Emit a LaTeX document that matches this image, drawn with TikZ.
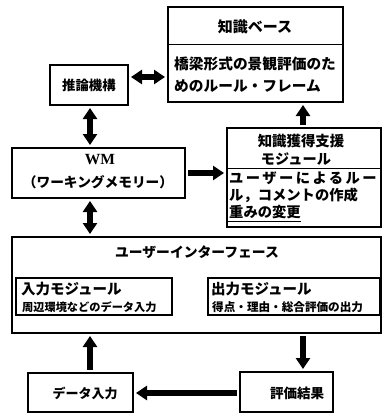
\documentclass[tikz,border=0pt]{standalone}
\usepackage{fontspec}
\newfontfamily\jp{Noto Sans CJK JP}
\newfontfamily\jpls{Noto Sans CJK JP}[LetterSpace=17]
\newfontfamily\wmf{Liberation Serif}
\usetikzlibrary{arrows.meta}
\tikzset{
  box/.style={draw, line width=2pt, inner sep=0pt},
  thinbox/.style={draw, line width=1.1pt, inner sep=0pt},
  txt/.style={inner sep=0pt},
  arr/.style={line width=5.5pt, shorten <=2pt, shorten >=2pt, -{Triangle[length=11pt,width=14pt]}},
  darr/.style={line width=5.5pt, shorten <=2pt, shorten >=2pt, {Triangle[length=11pt,width=14pt]}-{Triangle[length=11pt,width=14pt]}},
}
\newcommand{\fs}[1]{\fontsize{#1}{#1}\selectfont}
\begin{document}
\begin{tikzpicture}[x=1pt,y=-1pt]
\useasboundingbox (0,0) rectangle (384,418);
% boxes
\node[box, minimum width=175pt, minimum height=95pt] (kb) at (255.5,54.5) {};
\draw[line width=1pt] (kb.north west) ++(0,38) -- ++(175,0);
\node[box, minimum width=78pt, minimum height=40pt] (inf) at (89,85) {};
\node[box, minimum width=173pt, minimum height=50pt] (wm) at (98.5,173) {};
\node[box, minimum width=154pt, minimum height=99pt] (ka) at (304,177.5) {};
\draw[line width=1pt] (ka.north west) ++(0,41) -- ++(154,0);
\node[box, minimum width=369pt, minimum height=96pt] (ui) at (196.5,285) {};
\node[thinbox, minimum width=156pt, minimum height=37pt] (inm) at (94,296.5) {};
\node[thinbox, minimum width=172pt, minimum height=37pt] (outm) at (294,296.5) {};
\node[box, minimum width=93pt, minimum height=40pt] (res) at (286.5,392) {};
\node[box, minimum width=105pt, minimum height=39pt] (din) at (80.5,392.5) {};
% texts
\node[txt, font=\jp\bfseries\fs{15}] (t1) at (255,27) {知識ベース};
\node[txt, font=\jp\bfseries\fs{14.7}, anchor=west] (t2) at (174,64) {橋梁形式の景観評価のた};
\node[txt, font=\jp\bfseries\fs{14.7}, anchor=west] (t3) at (174,86) {めのルール・フレーム};
\node[txt, font=\jp\bfseries\fs{13.4}] (t4) at (89,85) {推論機構};
\node[txt, font=\wmf\bfseries\fs{15.5}] (t5) at (100,160) {WM};
\node[txt, font=\jp\bfseries\fs{13.7}] (t6) at (98,182) {（ワーキングメモリー）};
\node[txt, font=\jp\bfseries\fs{14.4}] (t7) at (301,141) {知識獲得支援};
\node[txt, font=\jp\bfseries\fs{14.2}] (t8) at (296,159) {モジュール};
\node[txt, font=\jpls\bfseries\fs{14.3}, anchor=west] (t9) at (229,178) {ユーザーによるルー};
\node[txt, font=\jp\bfseries\fs{14.3}, anchor=west] (t10) at (229,195) {ル，コメントの作成};
\node[txt, font=\jp\bfseries\fs{14.3}, anchor=west] (t11) at (229,212) {重みの変更};
\draw[line width=0.8pt] (ka.south west) ++(0,-7) -- ++(75,0);
\node[txt, font=\jp\bfseries\fs{13.8}] (t12) at (197,252) {ユーザーインターフェース};
\node[txt, font=\jp\bfseries\fs{14.5}, anchor=west] (t13) at (21,289) {入力モジュール};
\node[txt, font=\jp\bfseries\fs{11.2}, anchor=west] (t14) at (22,307) {周辺環境などのデータ入力};
\node[txt, font=\jp\bfseries\fs{14.5}, anchor=west] (t15) at (211,289) {出力モジュール};
\node[txt, font=\jp\bfseries\fs{11.6}, anchor=west] (t16) at (212,307) {得点・理由・総合評価の出力};
\node[txt, font=\jp\bfseries\fs{13.5}] (t17) at (297,393) {評価結果};
\node[txt, font=\jp\bfseries\fs{13}] (t18) at (85,393) {データ入力};
% connectors
\draw[darr] (inf.east |- 0,77) -- (kb.west |- 0,77);
\draw[darr] (inf.south -| 90,0) -- (wm.north -| 90,0);
\draw[arr] (ka.north -| 303,0) -- (kb.south -| 303,0);
\draw[arr] (wm.east |- 0,173) -- (ka.west |- 0,173);
\draw[darr] (wm.south -| 90,0) -- (ui.north -| 90,0);
\draw[arr] (ui.south -| 303,0) -- (res.north -| 303,0);
\draw[arr] (res.west |- 0,393) -- (din.east |- 0,393);
\draw[arr] (din.north -| 90,0) -- (ui.south -| 90,0);
\end{tikzpicture}
\end{document}
